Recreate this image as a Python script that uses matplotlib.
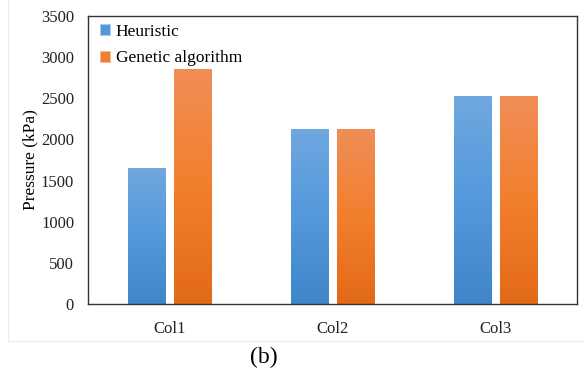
import numpy as np
import matplotlib
matplotlib.use('Agg')
import matplotlib.pyplot as plt
from matplotlib.colors import LinearSegmentedColormap
from matplotlib.patches import Rectangle

categories = ['Col1', 'Col2', 'Col3']
heuristic = [1650, 2130, 2530]
genetic = [2860, 2130, 2530]
series_names = ['Heuristic', 'Genetic algorithm']

plt.rcParams['font.family'] = ['Liberation Serif', 'DejaVu Serif']

fig = plt.figure(figsize=(5.84, 3.74), dpi=100)
ax = fig.add_axes([88 / 584, 1 - 304 / 374, (577 - 88) / 584, (304 - 16) / 374])

# faint outer chart-area frame
fig.patches.append(Rectangle((8 / 584, 1 - 341 / 374), 1.0, 1.0, transform=fig.transFigure,
                             fill=False, edgecolor='#ececec', linewidth=0.8, zorder=0))

x = np.arange(len(categories))
w = 0.23
off = 0.142

b1 = ax.bar(x - off, heuristic, w, color='#5497db', edgecolor='#a9cdee', linewidth=0.6,
            label=series_names[0], zorder=2)
b2 = ax.bar(x + off, genetic, w, color='#f07f30', edgecolor='#f6b78e', linewidth=0.6,
            label=series_names[1], zorder=2)

cmap_blue = LinearSegmentedColormap.from_list('b', ['#3f85c9', '#5499dc', '#70a8df'])
cmap_orange = LinearSegmentedColormap.from_list('o', ['#e36a17', '#f27f2e', '#f08e58'])
grad = np.linspace(0, 1, 256).reshape(-1, 1)

for bars, cmap in [(b1, cmap_blue), (b2, cmap_orange)]:
    for p in bars.patches:
        bx, by = p.get_x(), p.get_y()
        bw, bh = p.get_width(), p.get_height()
        im = ax.imshow(grad, cmap=cmap, origin='lower', aspect='auto',
                       extent=[bx, bx + bw, by, by + bh], zorder=2.5)
        im.set_clip_path(p)

ax.set_xlim(-0.5, 2.5)
ax.set_ylim(0, 3500)
ax.set_yticks(np.arange(0, 3501, 500))
ax.set_xticks(x)
ax.set_xticklabels(categories)
ax.tick_params(axis='both', length=0, labelsize=12, colors='#222222')
ax.tick_params(axis='y', pad=10)
ax.tick_params(axis='x', pad=12)
for s in ax.spines.values():
    s.set_color('#333333')
    s.set_linewidth(1.0)

ax.set_ylabel('Pressure (kPa)', fontsize=12.5, labelpad=2)

leg = ax.legend(loc='upper left', frameon=False, fontsize=12.5, handlelength=0.6,
                handleheight=0.6, handletextpad=0.3, labelspacing=0.6,
                borderaxespad=0.0, bbox_to_anchor=(5 / 489, 1 - 1 / 288))

fig.text(264 / 584, 1 - 357 / 374, '(b)', ha='center', va='center', fontsize=17)

fig.savefig('out.png', dpi=100)
